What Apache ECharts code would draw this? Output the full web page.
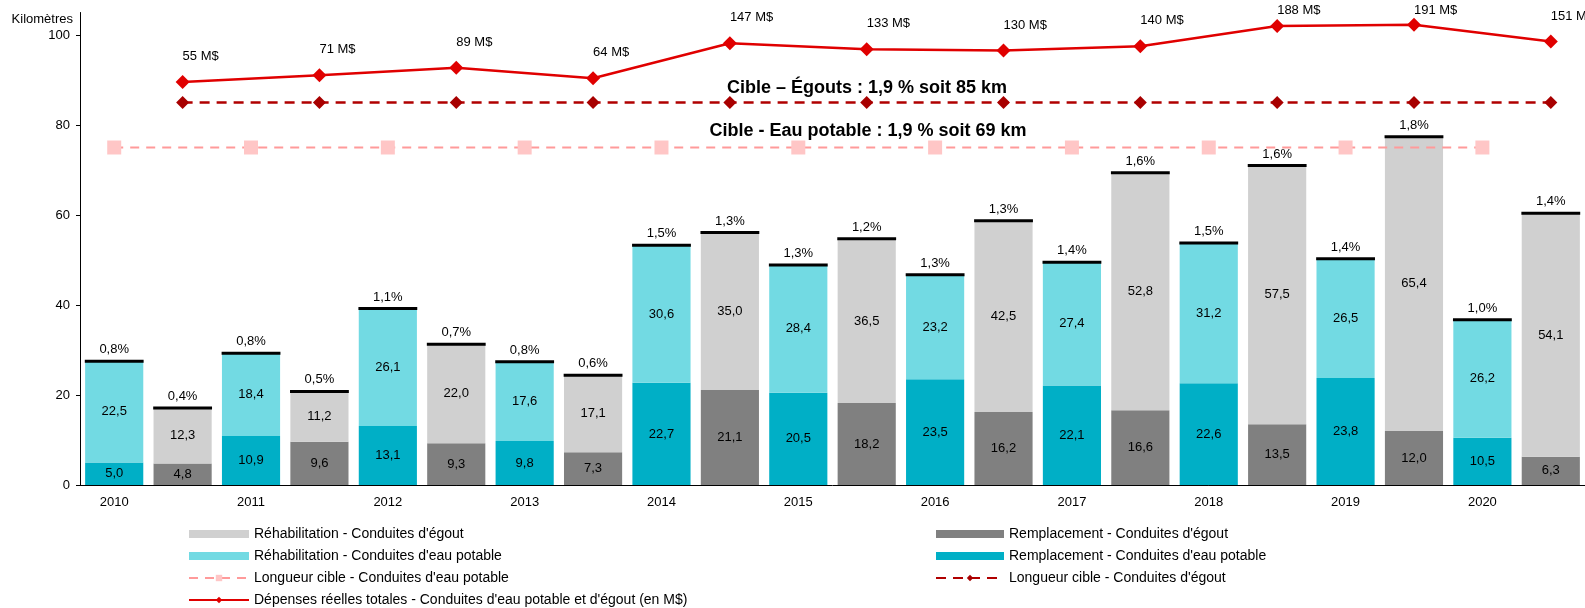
<!DOCTYPE html>
<html>
<head>
<meta charset="utf-8">
<script src="https://cdn.jsdelivr.net/npm/echarts@6/dist/echarts.min.js"></script>
<style>
  html, body { margin: 0; padding: 0; background: #fff; }
  #chart { width: 1585px; height: 608px; }
</style>
</head>
<body>
<div id="chart"></div>
<script>
// années (une barre eau potable puis une barre égout par année)
var years = ['2010', '2011', '2012', '2013', '2014', '2015', '2016', '2017', '2018', '2019', '2020'];

// kilomètres
var waterReplace = [5.0, 10.9, 13.1, 9.8, 22.7, 20.5, 23.5, 22.1, 22.6, 23.8, 10.5];
var waterRehab = [22.5, 18.4, 26.1, 17.6, 30.6, 28.4, 23.2, 27.4, 31.2, 26.5, 26.2];
var sewerReplace = [4.8, 9.6, 9.3, 7.3, 21.1, 18.2, 16.2, 16.6, 13.5, 12.0, 6.3];
var sewerRehab = [12.3, 11.2, 22.0, 17.1, 35.0, 36.5, 42.5, 52.8, 57.5, 65.4, 54.1];

// % du réseau
var pctWater = ['0,8%', '0,8%', '1,1%', '0,8%', '1,5%', '1,3%', '1,3%', '1,4%', '1,5%', '1,4%', '1,0%'];
var pctSewer = ['0,4%', '0,5%', '0,7%', '0,6%', '1,3%', '1,2%', '1,3%', '1,6%', '1,6%', '1,8%', '1,4%'];

// dépenses (M$)
var spending = [55, 71, 89, 64, 147, 133, 130, 140, 188, 191, 151];

// cibles (km)
var targetWater = [75, 75, 75, 75, 75, 75, 75, 75, 75, 75, 75];
var targetSewer = [85, 85, 85, 85, 85, 85, 85, 85, 85, 85, 85];

var yTicks = [0, 20, 40, 60, 80, 100];

var FONT = '"Liberation Sans", Arial, sans-serif';

// categories : eau potable (pair), égout (impair)
var categories = [];
years.forEach(function (y) { categories.push(y); categories.push(y + ' égout'); });

function spread(arr, offset) {
  var out = [];
  for (var i = 0; i < categories.length; i++) out.push('-');
  arr.forEach(function (v, i) { out[i * 2 + offset] = v; });
  return out;
}

var totals = [];
var pctAll = [];
years.forEach(function (y, i) {
  totals.push([i * 2, waterReplace[i] + waterRehab[i]]);
  totals.push([i * 2 + 1, sewerReplace[i] + sewerRehab[i]]);
  pctAll.push(pctWater[i]);
  pctAll.push(pctSewer[i]);
});

function fmt(p) { return p.value.toFixed(1).replace('.', ','); }

var insideLabel = { show: true, position: 'inside', formatter: fmt, color: '#000', fontSize: 13, fontFamily: FONT };

var chart = echarts.init(document.getElementById('chart'));
chart.setOption({
  animation: false,
  textStyle: { fontFamily: FONT },
  grid: { left: 80, top: 12.5, width: 1509, height: 472.5 },
  legend: [{
    left: 188, top: 527, orient: 'vertical', padding: 0,
    itemWidth: 60, itemHeight: 8, itemGap: 8,
    textStyle: { fontSize: 14, color: '#000', fontFamily: FONT },
    data: [
      { name: "Réhabilitation - Conduites d'égout", icon: 'rect' },
      { name: "Réhabilitation - Conduites d'eau potable", icon: 'rect' },
      "Longueur cible - Conduites d'eau potable",
      'Dépenses réelles totales - Conduites d\'eau potable et d\'égout (en M$)'
    ]
  }, {
    left: 935, top: 527, orient: 'vertical', padding: 0,
    itemWidth: 68, itemHeight: 8, itemGap: 8,
    textStyle: { fontSize: 14, color: '#000', fontFamily: FONT },
    data: [
      { name: "Remplacement - Conduites d'égout", icon: 'rect' },
      { name: "Remplacement - Conduites d'eau potable", icon: 'rect' },
      "Longueur cible - Conduites d'égout"
    ]
  }],
  xAxis: {
    type: 'category',
    data: categories,
    axisLine: { lineStyle: { color: '#000', width: 1 } },
    axisTick: { interval: 0, length: 4, lineStyle: { color: '#000' } },
    axisLabel: { interval: 1, margin: 11, fontSize: 13, color: '#000', fontFamily: FONT }
  },
  yAxis: [{
    type: 'value', min: 0, max: 105,
    name: 'Kilomètres', nameLocation: 'end', nameGap: -7,
    nameTextStyle: { align: 'right', verticalAlign: 'middle', padding: [0, 7, 0, 0], fontSize: 13, color: '#000', fontFamily: FONT },
    splitLine: { show: false },
    axisLine: { show: true, lineStyle: { color: '#000', width: 1 } },
    axisTick: { show: true, length: 4, customValues: yTicks, lineStyle: { color: '#000' } },
    axisLabel: { customValues: yTicks, margin: 10, fontSize: 13, color: '#000', fontFamily: FONT }
  }, {
    type: 'value', min: -900, max: 220, show: false, splitLine: { show: false }
  }],
  graphic: [{
    type: 'text', x: 867, y: 88,
    style: { text: 'Cible – Égouts : 1,9 % soit 85 km', font: 'bold 18px ' + FONT, fill: '#000', align: 'center', verticalAlign: 'middle' }
  }, {
    type: 'text', x: 868, y: 131,
    style: { text: 'Cible - Eau potable : 1,9 % soit 69 km', font: 'bold 18px ' + FONT, fill: '#000', align: 'center', verticalAlign: 'middle' }
  }],
  series: [{
    name: "Remplacement - Conduites d'eau potable", type: 'bar', stack: 'km',
    barCategoryGap: '15%', itemStyle: { color: '#00AFC6' }, label: insideLabel,
    data: spread(waterReplace, 0)
  }, {
    name: "Réhabilitation - Conduites d'eau potable", type: 'bar', stack: 'km',
    itemStyle: { color: '#72DAE3' }, label: insideLabel,
    data: spread(waterRehab, 0)
  }, {
    name: "Remplacement - Conduites d'égout", type: 'bar', stack: 'km',
    itemStyle: { color: '#808080' }, label: insideLabel,
    data: spread(sewerReplace, 1)
  }, {
    name: "Réhabilitation - Conduites d'égout", type: 'bar', stack: 'km',
    itemStyle: { color: '#D0D0D0' }, label: insideLabel,
    data: spread(sewerRehab, 1)
  }, {
    // trait noir au sommet des barres + %
    type: 'custom', z: 3,
    data: totals,
    renderItem: function (params, api) {
      var p = api.coord([api.value(0), api.value(1)]);
      var w = api.size([1, 0])[0] * 0.86;
      return {
        type: 'group',
        children: [{
          type: 'line',
          shape: { x1: p[0] - w / 2, y1: p[1], x2: p[0] + w / 2, y2: p[1] },
          style: { stroke: '#000', lineWidth: 3 }
        }, {
          type: 'text',
          style: { text: pctAll[params.dataIndex], x: p[0], y: p[1] - 5, align: 'center', verticalAlign: 'bottom', font: '13px ' + FONT, fill: '#000' }
        }]
      };
    }
  }, {
    name: "Longueur cible - Conduites d'eau potable", type: 'line', z: 4,
    connectNulls: true, symbol: 'rect', symbolSize: 14,
    lineStyle: { color: '#FF9A9A', width: 2, type: [9, 7] },
    itemStyle: { color: '#FFC6C6' },
    data: spread(targetWater, 0)
  }, {
    name: "Longueur cible - Conduites d'égout", type: 'line', z: 4,
    connectNulls: true, symbol: 'diamond', symbolSize: 13,
    lineStyle: { color: '#B00000', width: 2.5, type: [10, 7] },
    itemStyle: { color: '#A80000' },
    data: spread(targetSewer, 1)
  }, {
    name: 'Dépenses réelles totales - Conduites d\'eau potable et d\'égout (en M$)', type: 'line', z: 5,
    yAxisIndex: 1, connectNulls: true, symbol: 'diamond', symbolSize: 14,
    lineStyle: { color: '#E00000', width: 2.5 },
    itemStyle: { color: '#E00000' },
    label: { show: true, position: 'top', distance: 12, formatter: '{c} M$', fontSize: 13, color: '#000', fontFamily: FONT },
    labelLayout: function (p) {
      var cy = p.labelRect.y + p.labelRect.height / 2;
      return { y: Math.max(cy, 10), verticalAlign: 'middle' };
    },
    data: spread(spending, 1)
  }]
});
</script>
</body>
</html>
